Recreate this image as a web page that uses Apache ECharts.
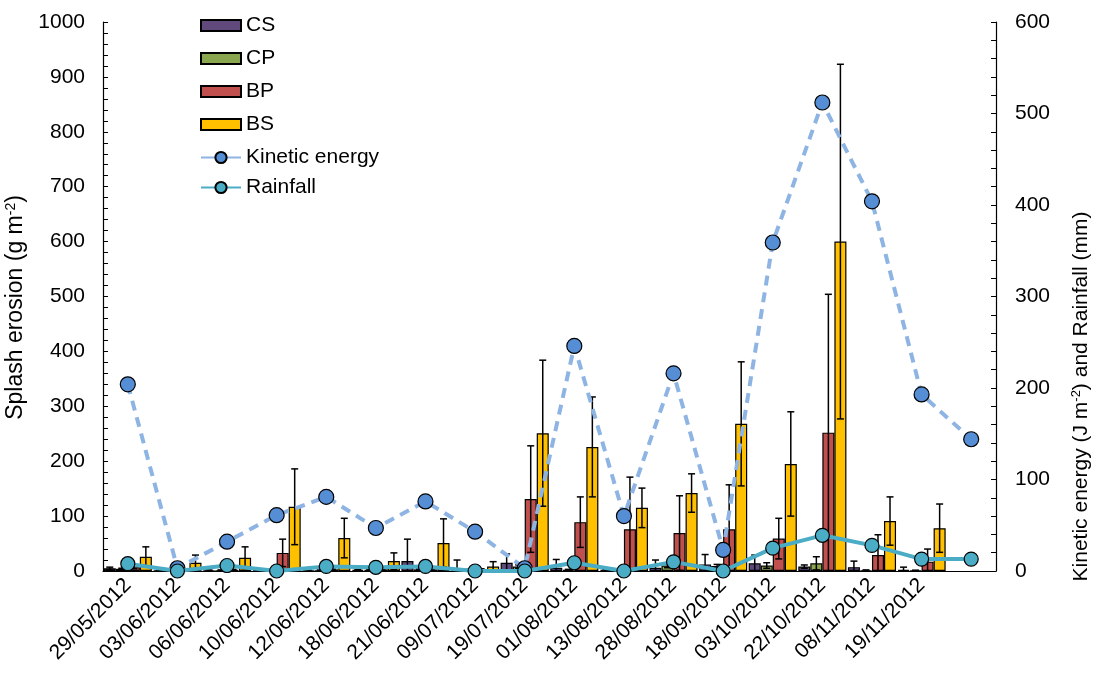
<!DOCTYPE html>
<html>
<head>
<meta charset="utf-8">
<script src="https://cdn.jsdelivr.net/npm/echarts@6/dist/echarts.min.js"></script>
<style>
  html, body { margin: 0; padding: 0; background: #ffffff; }
  #chart { width: 1096px; height: 675px; }
</style>
</head>
<body>
<div id="chart"></div>
<script>
// Sampling dates (the last group carries only kinetic energy and rainfall)
const dates = ['29/05/2012', '03/06/2012', '06/06/2012', '10/06/2012', '12/06/2012', '18/06/2012',
  '21/06/2012', '09/07/2012', '19/07/2012', '01/08/2012', '13/08/2012', '28/08/2012',
  '18/09/2012', '03/10/2012', '22/10/2012', '08/11/2012', '19/11/2012', ''];

// Splash erosion (g m-2) per treatment, with standard-error values
const csMean = [5, 1, 1, 2, 1, 2, 18, 4, 15, 6, 2, 6, 12, 14, 8, 7, 2, null];
const csErr  = [2, 1, 1, 1, 1, 1, 40, 16, 16, 15, 1, 14, 18, 15, 3, 11, 5, null];
const cpMean = [4, 1, 1, 1, 1, 2, 3, 2, 8, 2, 1, 10, 9, 10, 14, 1, 0.5, null];
const cpErr  = [1, 1, 1, 1, 1, 1, 1, 1, 3, 1, 1, 4, 3, 5, 12, 1, 1, null];
const bpMean = [7, 2, 2, 33, 3, 3, 3, 3, 131, 89, 76, 69, 76, 59, 252, 29, 17, null];
const bpErr  = [3, 1, 1, 25, 1, 1, 1, 1, 97, 46, 95, 68, 81, 37, 252, 37, 23, null];
const bsMean = [26, 15, 24, 117, 60, 18, 51, 8, 251, 226, 115, 142, 268, 195, 600, 91, 78, null];
const bsErr  = [18, 14, 20, 69, 36, 15, 44, 9, 133, 91, 36, 35, 113, 95, 323, 44, 44, null];

// Kinetic energy (J m-2) and rainfall (mm)
const kineticEnergy = [204, 3, 32, 61, 81, 47, 76, 43, 3, 246, 60, 216, 23, 359, 512, 404, 193, 144];
const rainfall = [8, 0, 6, 0, 5, 4, 5, 0, 0, 9, 0, 10, 0, 25, 39, 28, 13, 13];

const leftTicks = { min: 0, max: 1000, interval: 100 };
const rightTicks = { min: 0, max: 600, interval: 100 };

const FONT = '"Liberation Sans", Arial, sans-serif';
const FS = 21;
const CATEGORY_GAP = 0.03;

const treatments = [
  { name: 'CS', mean: csMean, err: csErr, color: '#604A7B' },
  { name: 'CP', mean: cpMean, err: cpErr, color: '#8AA64E' },
  { name: 'BP', mean: bpMean, err: bpErr, color: '#C0504D' },
  { name: 'BS', mean: bsMean, err: bsErr, color: '#FFC000' }
];

function errorBarSeries(t, k) {
  const data = t.mean.map((v, i) => (v == null ? null : [i, v, t.err[i]])).filter(d => d);
  return {
    type: 'custom',
    name: t.name + ' error',
    z: 3,
    silent: true,
    encode: { x: 0, y: 1 },
    data: data,
    renderItem: function (params, api) {
      const idx = api.value(0);
      const v = api.value(1);
      const e = api.value(2);
      const band = api.size([1, 0])[0];
      const groupW = band * (1 - CATEGORY_GAP);
      const w = groupW / treatments.length;
      const x = api.coord([idx, 0])[0] - groupW / 2 + (k + 0.5) * w;
      const yTop = api.coord([idx, v + e])[1];
      const yBot = api.coord([idx, Math.max(0, v - e)])[1];
      const cap = 3.5;
      const style = { stroke: '#000', lineWidth: 1.5 };
      return {
        type: 'group',
        children: [
          { type: 'line', shape: { x1: x, y1: yTop, x2: x, y2: yBot }, style: style },
          { type: 'line', shape: { x1: x - cap, y1: yTop, x2: x + cap, y2: yTop }, style: style },
          { type: 'line', shape: { x1: x - cap, y1: yBot, x2: x + cap, y2: yBot }, style: style }
        ]
      };
    }
  };
}

const barSeries = treatments.map(t => ({
  type: 'bar',
  name: t.name,
  data: t.mean,
  z: 2,
  barGap: '0%',
  barCategoryGap: (CATEGORY_GAP * 100) + '%',
  itemStyle: { color: t.color, borderColor: '#000', borderWidth: 1.2 }
}));

const supStyle = { fontFamily: FONT, fontSize: 13, verticalAlign: 'top', padding: [0, 0, 9, 0], color: '#000' };
const legendText = { fontFamily: FONT, fontSize: FS, color: '#000' };

const chart = echarts.init(document.getElementById('chart'));
chart.setOption({
  animation: false,
  backgroundColor: '#ffffff',
  textStyle: { fontFamily: FONT, color: '#000' },
  grid: { left: 103, right: 100, top: 22, bottom: 104, containLabel: false, outerBoundsMode: 'none' },
  legend: [
    {
      orient: 'vertical',
      left: 195,
      top: 10,
      itemWidth: 40,
      itemHeight: 11,
      itemGap: 12,
      textStyle: legendText,
      data: [
        { name: 'CS', icon: 'rect' },
        { name: 'CP', icon: 'rect' },
        { name: 'BP', icon: 'rect' },
        { name: 'BS', icon: 'rect' }
      ]
    },
    {
      orient: 'vertical',
      left: 195,
      top: 142,
      itemWidth: 40,
      itemHeight: 14,
      itemGap: 9,
      textStyle: legendText,
      data: [
        { name: 'Kinetic energy', lineStyle: { type: 'solid' } },
        { name: 'Rainfall' }
      ]
    }
  ],
  xAxis: {
    type: 'category',
    data: dates,
    boundaryGap: true,
    axisLine: { show: true, lineStyle: { color: '#000', width: 1.2 } },
    axisTick: { show: false },
    axisLabel: {
      rotate: 45,
      interval: 0,
      margin: 11,
      fontFamily: FONT,
      fontSize: FS,
      color: '#000'
    },
    splitLine: { show: false }
  },
  yAxis: [
    {
      type: 'value',
      min: leftTicks.min,
      max: leftTicks.max,
      interval: leftTicks.interval,
      name: 'Splash erosion (g m{sup|-2})',
      nameLocation: 'middle',
      nameGap: 72,
      nameTextStyle: {
        fontFamily: FONT, fontSize: 23, color: '#000',
        padding: [0, 22, 0, 0],
        rich: { sup: { fontFamily: FONT, fontSize: 14, verticalAlign: 'top', padding: [0, 0, 10, 0], color: '#000' } }
      },
      axisLine: { show: true, lineStyle: { color: '#000', width: 1.2 } },
      axisTick: { show: true, inside: true, length: 5, lineStyle: { color: '#000' } },
      minorTick: { show: true, splitNumber: 5, length: 5, lineStyle: { color: '#000' } },
      axisLabel: {
        fontFamily: FONT, fontSize: FS, color: '#000', margin: 18,
        formatter: v => String(v)
      },
      splitLine: { show: false }
    },
    {
      type: 'value',
      position: 'right',
      min: rightTicks.min,
      max: rightTicks.max,
      interval: rightTicks.interval,
      name: 'Kinetic energy (J m{sup|-2}) and Rainfall (mm)',
      nameLocation: 'middle',
      nameGap: 74,
      nameRotate: 90,
      nameTextStyle: {
        fontFamily: FONT, fontSize: FS, color: '#000',
        padding: [0, 200, 0, 0],
        rich: { sup: supStyle }
      },
      axisLine: { show: true, lineStyle: { color: '#000', width: 1.2 } },
      axisTick: { show: true, inside: true, length: 5, lineStyle: { color: '#000' } },
      minorTick: { show: true, splitNumber: 5, length: 5, lineStyle: { color: '#000' } },
      axisLabel: {
        fontFamily: FONT, fontSize: FS, color: '#000', margin: 19,
        formatter: v => String(v)
      },
      splitLine: { show: false }
    }
  ],
  series: barSeries
    .concat(treatments.map((t, k) => errorBarSeries(t, k)))
    .concat([
      {
        type: 'line',
        name: 'Kinetic energy',
        yAxisIndex: 1,
        data: kineticEnergy,
        z: 5,
        symbol: 'circle',
        symbolSize: 15,
        lineStyle: { color: '#8EB4E3', width: 4, type: [10, 7] },
        itemStyle: { color: '#558ED5', borderColor: '#000', borderWidth: 1.2 }
      },
      {
        type: 'line',
        name: 'Rainfall',
        yAxisIndex: 1,
        data: rainfall,
        z: 6,
        symbol: 'circle',
        symbolSize: 14,
        lineStyle: { color: '#4BACC6', width: 4 },
        itemStyle: { color: '#4BACC6', borderColor: '#000', borderWidth: 1.2 }
      }
    ])
});
</script>
</body>
</html>
